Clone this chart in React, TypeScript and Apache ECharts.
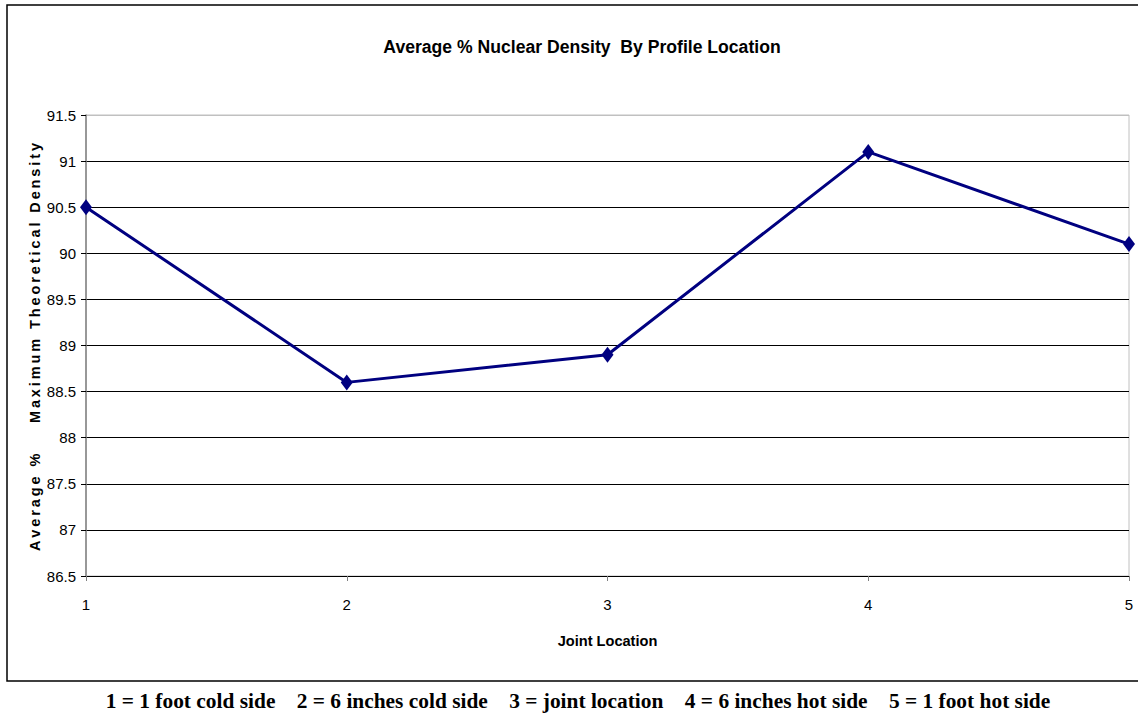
import React, { useEffect, useRef } from "react";
import * as echarts from "echarts";

const titleText = "Average % Nuclear Density  By Profile Location";
const yAxisTitle = "Average %    Maximum Theoretical Density";
const xAxisTitle = "Joint Location";
const caption =
  "1 = 1 foot cold side    2 = 6 inches cold side    3 = joint location    4 = 6 inches hot side    5 = 1 foot hot side";
const locations = [1, 2, 3, 4, 5];
const density = [90.5, 88.6, 88.9, 91.1, 90.1];

const spaced = (s: string) => s.split("").join("\u2009");

const SANS = "'Liberation Sans', Arial, sans-serif";

export default function App() {
  const ref = useRef<HTMLDivElement>(null);
  useEffect(() => {
    if (!ref.current) return;
    const chart = echarts.init(ref.current, undefined, { renderer: "svg" });
    const gridColors = ["#000", "#000", "#000", "#000", "#000", "#000", "#000", "#000", "#000", "#000", "#c0c0c0"];
    chart.setOption({
      animation: false,
      backgroundColor: "#fff",
      textStyle: { fontFamily: SANS },
      title: {
        text: titleText,
        left: 577,
        top: 33,
        textAlign: "center",
        textStyle: { fontSize: 17.6, fontWeight: "bold", color: "#000", fontFamily: SANS },
      },
      grid: {
        left: 86,
        right: 9,
        top: 115,
        bottom: 139,
        show: true,
        borderColor: "#c0c0c0",
        borderWidth: 1,
        backgroundColor: "#fff",
      },
      xAxis: {
        type: "value",
        min: 1,
        max: 5,
        interval: 1,
        name: xAxisTitle,
        nameLocation: "middle",
        nameGap: 57,
        nameTextStyle: { fontSize: 14.6, fontWeight: "bold", color: "#000", fontFamily: SANS },
        axisLine: { show: true, lineStyle: { color: "#000", width: 1 } },
        axisTick: { show: true, length: 5, lineStyle: { color: "#808080" } },
        axisLabel: { fontSize: 15, color: "#000", margin: 21, fontFamily: SANS },
        splitLine: { show: false },
      },
      yAxis: {
        type: "value",
        min: 86.5,
        max: 91.5,
        interval: 0.5,
        axisLine: { show: true, lineStyle: { color: "#808080", width: 1.5 } },
        axisTick: { show: true, length: 5, lineStyle: { color: "#000" } },
        axisLabel: { fontSize: 15, color: "#000", margin: 10, fontFamily: SANS },
        splitLine: { show: true, lineStyle: { color: gridColors, width: 1 } },
      },
      series: [
        {
          type: "line",
          data: locations.map((x, i) => [x, density[i]]),
          lineStyle: { color: "#000080", width: 3 },
          itemStyle: { color: "#000080" },
          symbol: "diamond",
          symbolSize: [12, 16],
          z: 5,
        },
      ],
      graphic: [
        {
          type: "rect",
          shape: { x: 7, y: 5, width: 1140, height: 676 },
          style: { fill: "none", stroke: "#000", lineWidth: 1.5 },
          silent: true,
        },
        {
          type: "text",
          x: 35,
          y: 347,
          rotation: Math.PI / 2,
          style: {
            text: spaced(yAxisTitle),
            fontSize: 14.5,
            fontWeight: "bold",
            fontFamily: SANS,
            fill: "#000",
            textAlign: "center",
            textVerticalAlign: "middle",
          },
        },
        {
          type: "text",
          x: 578,
          y: 701,
          style: {
            text: caption,
            fontSize: 21.4,
            fontWeight: "bold",
            fontFamily: "'Liberation Serif', 'Times New Roman', serif",
            fill: "#000",
            textAlign: "center",
            textVerticalAlign: "middle",
          },
        },
      ],
    });
    return () => chart.dispose();
  }, []);
  return (
    <div
      ref={ref}
      style={{ position: "fixed", left: 0, top: 0, width: 1138, height: 715 }}
    />
  );
}
